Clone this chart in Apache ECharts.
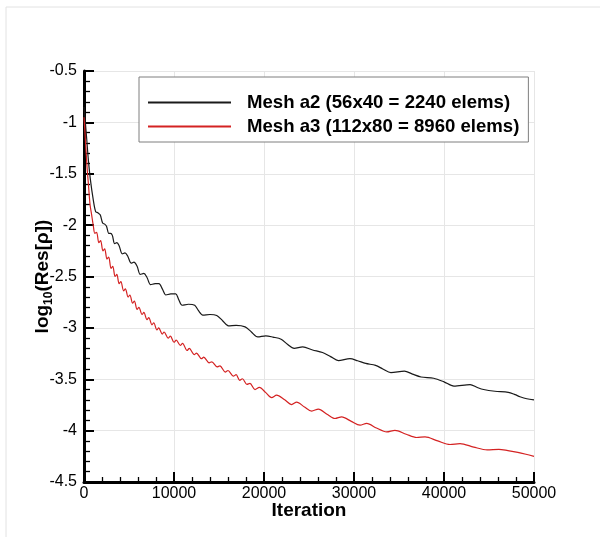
<!DOCTYPE html>
<html>
<head>
<meta charset="utf-8">
<script src="https://cdn.jsdelivr.net/npm/echarts@6/dist/echarts.min.js"></script>
<style>
html,body{margin:0;padding:0;background:#fff;}
#chart{width:600px;height:537px;}
</style>
</head>
<body>
<div id="chart"></div>
<script>
// ---- data ----
const seriesNames = ['Mesh a2 (56x40 = 2240 elems)', 'Mesh a3 (112x80 = 8960 elems)'];
const xTicks = [0, 10000, 20000, 30000, 40000, 50000];
const yTicks = [-4.5, -4, -3.5, -3, -2.5, -2, -1.5, -1, -0.5];

const meshA2 = [
  [0,-0.85],[150,-1.0],[300,-1.16],[480,-1.36],[700,-1.55],[1040,-1.76],[1300,-1.87],[1550,-1.88],
  [1800,-1.90],[2070,-1.98],[2300,-1.99],[2500,-2.01],[2750,-2.08],[2950,-2.08],[3150,-2.10],
  [3400,-2.18],[3650,-2.17],[3900,-2.20],[4250,-2.28],[4550,-2.27],[4850,-2.30],[5250,-2.37],
  [5550,-2.36],[5900,-2.40],[6250,-2.48],[6650,-2.47],[7000,-2.51],[7400,-2.58],[7900,-2.57],
  [8330,-2.57],[8700,-2.62],[9100,-2.68],[9650,-2.67],[10200,-2.67],[10500,-2.72],[10900,-2.78],
  [11600,-2.77],[12300,-2.78],[12700,-2.83],[13200,-2.875],[14000,-2.87],[14750,-2.88],[15400,-2.93],
  [16050,-2.98],[16900,-2.975],[17900,-2.99],[18600,-3.04],[19300,-3.088],[20200,-3.077],[21000,-3.09],
  [21900,-3.11],[22600,-3.16],[23350,-3.20],[24300,-3.185],[25400,-3.215],[26500,-3.24],[27400,-3.28],
  [28260,-3.318],[29550,-3.30],[30400,-3.32],[31300,-3.346],[32400,-3.365],[33200,-3.40],[34100,-3.436],
  [35600,-3.42],[36500,-3.45],[37450,-3.478],[38850,-3.49],[40000,-3.525],[41100,-3.567],[42900,-3.552],
  [43700,-3.58],[44400,-3.60],[45660,-3.617],[47140,-3.627],[47900,-3.65],[48440,-3.67],[49200,-3.69],
  [50000,-3.70]
];

const meshA3 = [
  [0,-0.95],[110,-1.1],[220,-1.27],[350,-1.45],[480,-1.59],[670,-1.80],[850,-1.90],[1040,-2.01],
  [1200,-2.08],[1400,-2.07],[1650,-2.17],[1850,-2.15],[2100,-2.25],[2300,-2.23],[2550,-2.33],[2750,-2.31],
  [3000,-2.42],[3200,-2.40],[3450,-2.50],[3650,-2.48],[3900,-2.57],[4100,-2.55],[4400,-2.64],[4600,-2.62],
  [4900,-2.70],[5100,-2.68],[5400,-2.76],[5600,-2.74],[5900,-2.82],[6100,-2.80],[6450,-2.87],[6650,-2.85],
  [7000,-2.92],[7200,-2.90],[7550,-2.97],[7750,-2.95],[8100,-3.02],[8300,-3.00],[8700,-3.06],[8900,-3.04],
  [9350,-3.10],[9600,-3.08],[10000,-3.14],[10250,-3.12],[10700,-3.17],[10950,-3.15],[11450,-3.22],
  [11700,-3.20],[12250,-3.26],[12500,-3.245],[13050,-3.30],[13300,-3.285],[13900,-3.34],[14200,-3.33],
  [14800,-3.38],[15100,-3.37],[15700,-3.43],[16000,-3.415],[16600,-3.47],[16900,-3.455],[17300,-3.51],
  [17600,-3.495],[18100,-3.55],[18440,-3.54],[19000,-3.60],[19480,-3.58],[20200,-3.63],[20850,-3.678],
  [21400,-3.655],[22300,-3.70],[23070,-3.746],[23630,-3.723],[24500,-3.77],[25300,-3.81],[26040,-3.79],
  [27000,-3.84],[27890,-3.882],[28630,-3.866],[29700,-3.91],[30670,-3.947],[31410,-3.93],[32500,-3.975],
  [33630,-4.013],[34550,-3.997],[35800,-4.035],[36960,-4.067],[37890,-4.061],[39300,-4.10],[40670,-4.135],
  [41780,-4.126],[43300,-4.16],[44800,-4.187],[46100,-4.182],[47100,-4.195],[48200,-4.212],[49100,-4.23],
  [50000,-4.25]
];

// ---- chart ----
const chart = echarts.init(document.getElementById('chart'), null, {renderer: 'canvas'});
const FONT = '"Liberation Sans", Arial, Helvetica, sans-serif';

const option = {
  animation: false,
  backgroundColor: '#fff',
  textStyle: {fontFamily: FONT},
  graphic: [
    {type: 'line', z: -10, shape: {x1: 6, y1: 7, x2: 600, y2: 7}, style: {stroke: '#e2e2e2', lineWidth: 1}},
    {type: 'line', z: -10, shape: {x1: 6, y1: 7, x2: 6, y2: 537}, style: {stroke: '#e2e2e2', lineWidth: 1}}
  ],
  grid: {left: 84, right: 66, top: 71, bottom: 55, containLabel: false},
  legend: {
    orient: 'vertical',
    left: 139, top: 77,
    data: seriesNames,
    backgroundColor: '#fff',
    borderColor: '#7f7f7f', borderWidth: 1,
    padding: [16, 9, 6, 8],
    itemWidth: 83, itemHeight: 18, itemGap: 5,
    itemStyle: {opacity: 0},
    textStyle: {fontFamily: FONT, fontSize: 18.6, fontWeight: 'bold', color: '#000', padding: [0, 0, 0, 11]}
  },
  xAxis: {
    type: 'value', min: xTicks[0], max: xTicks[xTicks.length - 1], interval: xTicks[1] - xTicks[0],
    name: 'Iteration', nameLocation: 'middle', nameGap: 19, nameMoveOverlap: false,
    nameTextStyle: {fontFamily: FONT, fontSize: 19, fontWeight: 'bold', color: '#000'},
    axisLine: {show: true, onZero: false, lineStyle: {color: '#000', width: 3}},
    axisTick: {show: true, inside: true, length: 10, lineStyle: {color: '#000', width: 2}},
    minorTick: {show: true, splitNumber: 5, length: 5, lineStyle: {color: '#000', width: 1.3}},
    axisLabel: {fontFamily: FONT, fontSize: 16, color: '#000', margin: 4, formatter: v => String(v)},
    splitLine: {show: true, lineStyle: {color: '#e6e6e6', width: 1}}
  },
  yAxis: {
    type: 'value', min: yTicks[0], max: yTicks[yTicks.length - 1], interval: yTicks[1] - yTicks[0],
    name: '{a|log}{b|10}{a|(Res[ρ])}', nameLocation: 'middle', nameGap: 29, nameMoveOverlap: false,
    nameTextStyle: {
      color: '#000',
      rich: {
        a: {fontFamily: FONT, fontSize: 19, fontWeight: 'bold', color: '#000', lineHeight: 24},
        b: {fontFamily: FONT, fontSize: 12, fontWeight: 'bold', color: '#000', verticalAlign: 'bottom', lineHeight: 24, padding: [8, 0, 0, 0]}
      }
    },
    axisLine: {show: true, onZero: false, lineStyle: {color: '#000', width: 3}},
    axisTick: {show: true, inside: true, length: 10, lineStyle: {color: '#000', width: 2}},
    minorTick: {show: true, splitNumber: 5, length: 6, lineStyle: {color: '#000', width: 1.3}},
    axisLabel: {fontFamily: FONT, fontSize: 16, color: '#000', margin: 7, formatter: v => String(v)},
    splitLine: {show: true, lineStyle: {color: '#e6e6e6', width: 1}}
  },
  series: [
    {name: seriesNames[0], type: 'line', data: meshA2, symbol: 'none', smooth: 0.3,
     lineStyle: {color: '#1a1a1a', width: 1.2}, itemStyle: {color: '#1a1a1a'}, z: 3},
    {name: seriesNames[1], type: 'line', data: meshA3, symbol: 'none', smooth: 0.3,
     lineStyle: {color: '#d42222', width: 1.2}, itemStyle: {color: '#d42222'}, z: 4}
  ]
};
chart.setOption(option);
</script>
</body>
</html>
